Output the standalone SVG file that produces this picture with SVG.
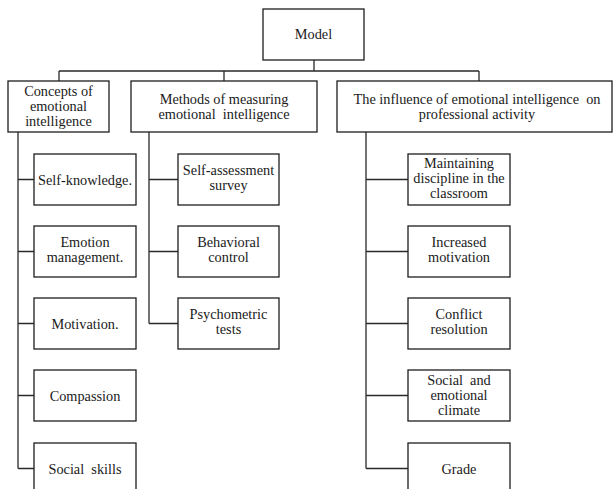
<svg xmlns="http://www.w3.org/2000/svg" width="613" height="489" viewBox="0 0 613 489">
<style>
.box{fill:#fff;stroke:#1e1e1e;stroke-width:1.3}
.ln{fill:none;stroke:#2a2a2a;stroke-width:1.3}
text{font-family:"Liberation Serif","Times New Roman",serif;font-size:14.3px;fill:#1a1a1a;text-anchor:middle;white-space:pre}
</style>
<rect width="613" height="489" fill="#fff"/>
<g id="connectors" class="ln">
<path d="M314 60V71M59 71H479M59 71V81M224 71V81M479 71V81"/>
<path d="M18 132V468.5M18 179.5H34M18 251.5H34M18 323.5H34M18 395.5H34M18 468.5H34"/>
<path d="M149 132V323.5M149 179.5H178M149 251.5H178M149 323.5H178"/>
<path d="M366 132V468.5M366 179.5H408M366 251.5H408M366 323.5H408M366 395.5H408M366 468.5H408"/>
</g>
<g id="model"><rect class="box" x="263" y="9" width="101" height="51"/><text x="313.5" y="39">Model</text></g>
<g id="concepts"><rect class="box" x="8" y="81" width="101" height="51"/><text x="58.5" y="96">Concepts of</text><text x="58.5" y="111">emotional</text><text x="58.5" y="126">intelligence</text></g>
<g id="methods"><rect class="box" x="131" y="81" width="186" height="51"/><text x="224" y="104">Methods of measuring</text><text x="224" y="119" xml:space="preserve">emotional  intelligence</text></g>
<g id="influence"><rect class="box" x="337" y="81" width="275" height="51"/><text x="477" y="104" xml:space="preserve">The influence of emotional intelligence  on</text><text x="477" y="119">professional activity</text></g>
<g id="self-knowledge"><rect class="box" x="34" y="154" width="102" height="51"/><text x="85" y="184.5">Self-knowledge.</text></g>
<g id="emotion-management"><rect class="box" x="34" y="226" width="102" height="51"/><text x="85" y="247">Emotion</text><text x="85" y="262">management.</text></g>
<g id="motivation"><rect class="box" x="34" y="298" width="102" height="51"/><text x="85" y="328.5">Motivation.</text></g>
<g id="compassion"><rect class="box" x="34" y="370" width="102" height="51"/><text x="85" y="400.5">Compassion</text></g>
<g id="social-skills"><rect class="box" x="34" y="443" width="102" height="52"/><text x="85" y="473.5" xml:space="preserve">Social  skills</text></g>
<g id="self-assessment"><rect class="box" x="178" y="154" width="101" height="51"/><text x="228.5" y="175">Self-assessment</text><text x="228.5" y="190">survey</text></g>
<g id="behavioral-control"><rect class="box" x="178" y="226" width="101" height="51"/><text x="228.5" y="247">Behavioral</text><text x="228.5" y="262">control</text></g>
<g id="psychometric-tests"><rect class="box" x="178" y="298" width="101" height="51"/><text x="228.5" y="319">Psychometric</text><text x="228.5" y="334">tests</text></g>
<g id="discipline"><rect class="box" x="408" y="154" width="102" height="51"/><text x="459" y="168">Maintaining</text><text x="459" y="183">discipline in the</text><text x="459" y="198">classroom</text></g>
<g id="increased-motivation"><rect class="box" x="408" y="226" width="102" height="51"/><text x="459" y="247">Increased</text><text x="459" y="262">motivation</text></g>
<g id="conflict-resolution"><rect class="box" x="408" y="298" width="102" height="51"/><text x="459" y="319">Conflict</text><text x="459" y="334">resolution</text></g>
<g id="climate"><rect class="box" x="408" y="370" width="102" height="51"/><text x="459" y="384.5" xml:space="preserve">Social  and</text><text x="459" y="399.5">emotional</text><text x="459" y="414.5">climate</text></g>
<g id="grade"><rect class="box" x="408" y="443" width="102" height="52"/><text x="459" y="473.5">Grade</text></g>
</svg>
